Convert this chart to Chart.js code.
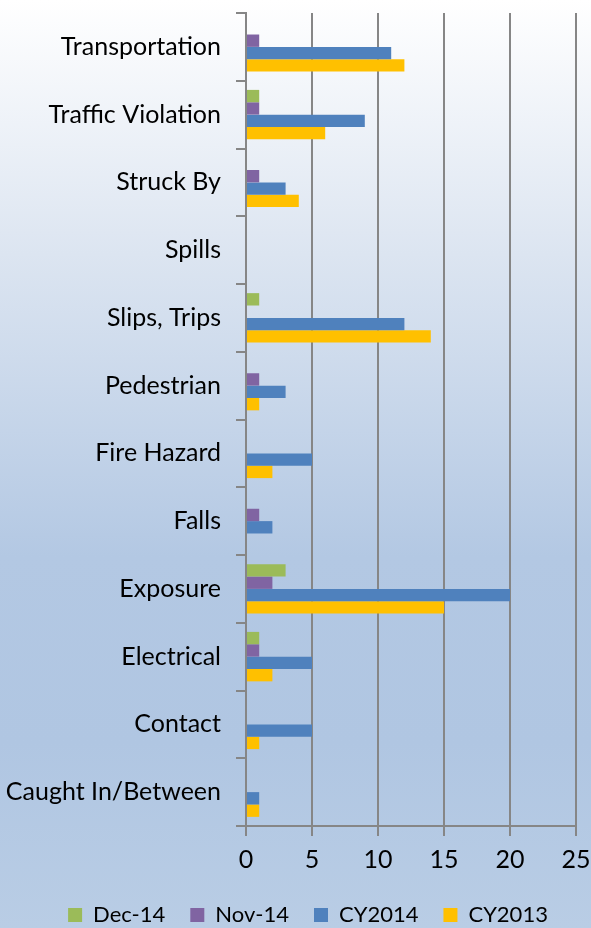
<!DOCTYPE html>
<html><head><meta charset="utf-8">
<script src="https://cdn.jsdelivr.net/npm/chart.js@4.4.1/dist/chart.umd.min.js"></script>
<style>
html,body{margin:0;padding:0;}
body{width:591px;height:928px;background:linear-gradient(to bottom,#ffffff 0%,#dfe7f2 25%,#b3c8e3 60%,#b0c6e2 80%,#b9cde5 100%);}
#wrap{width:591px;height:928px;position:relative;}
</style></head>
<body><div id="wrap"><canvas id="c" width="591" height="928"></canvas></div>
<script>
const categories = ["Transportation","Traffic Violation","Struck By","Spills","Slips, Trips","Pedestrian","Fire Hazard","Falls","Exposure","Electrical","Contact","Caught In/Between"];
const dec14  = [0,1,0,0,1,0,0,0,3,1,0,0];
const nov14  = [1,1,1,0,0,1,0,1,2,1,0,0];
const cy2014 = [11,9,3,0,12,3,5,2,20,5,5,1];
const cy2013 = [12,6,4,0,14,1,2,0,15,2,1,1];
const xTicks = [0,5,10,15,20,25];

const FONT = "Lato";
const gray = "#868686";
const shiftLegend = {
  id: 'shiftLegend',
  afterLayout(chart) {
    const l = chart.legend;
    if (!l) return;
    l.left += 20; l.right += 20;
    l.top += 8; l.bottom += 8;
  }
};
new Chart(document.getElementById('c'), {
  type: 'bar',
  data: {
    labels: categories,
    datasets: [
      {label:'Dec-14', data: dec14, backgroundColor:'#9bbb59'},
      {label:'Nov-14', data: nov14, backgroundColor:'#8064a2'},
      {label:'CY2014', data: cy2014, backgroundColor:'#4f81bd'},
      {label:'CY2013', data: cy2013, backgroundColor:'#ffc000'}
    ]
  },
  plugins: [shiftLegend],
  options: {
    indexAxis: 'y',
    responsive: false,
    animation: false,
    layout: {padding: {top: 13, right: 15, left: 0, bottom: 0}},
    datasets: {bar: {categoryPercentage: 0.73, barPercentage: 1.0, borderWidth: 0}},
    scales: {
      x: {
        min: 0, max: 25,
        afterBuildTicks: (ax) => { ax.ticks = xTicks.map(v => ({value: v})); },
        grid: {color: gray, lineWidth: 2, drawTicks: true, tickLength: 10, tickColor: gray},
        border: {display: true, color: gray, width: 2},
        ticks: {color: '#000', font: {family: FONT, size: 25}, padding: 9},
        afterFit: (ax) => { ax.height = 45; ax.paddingLeft = 0; ax.paddingRight = 0; }
      },
      y: {
        grid: {drawOnChartArea: false, drawTicks: true, tickLength: 10, color: gray, lineWidth: 2, offset: true},
        border: {display: true, color: gray, width: 2},
        ticks: {color: '#000', font: {family: FONT, size: 25}, padding: 15},
        afterFit: (ax) => { ax.width = 246; ax.paddingTop = 0; ax.paddingBottom = 0; }
      }
    },
    plugins: {
      tooltip: {enabled: false},
      legend: {
        position: 'bottom',
        labels: {boxWidth: 14, boxHeight: 14, padding: 25, color: '#000', font: {family: FONT, size: 22}}
      }
    }
  }
});
</script></body></html>
